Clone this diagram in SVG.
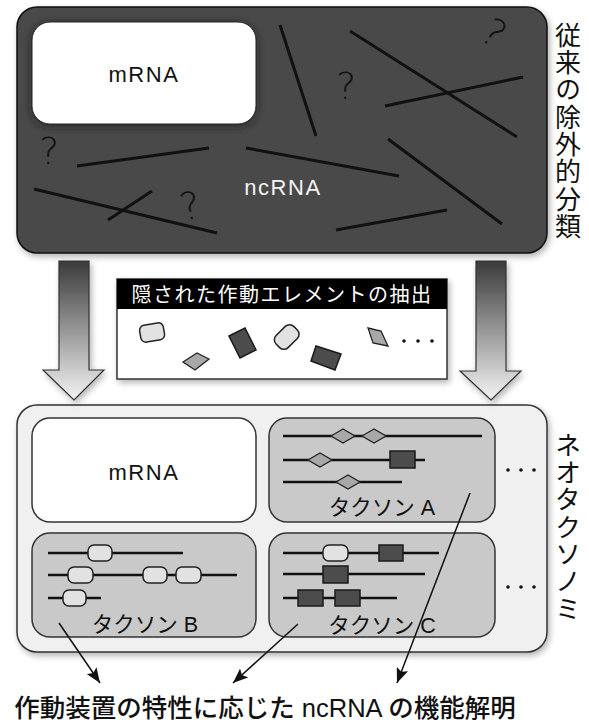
<svg xmlns="http://www.w3.org/2000/svg" width="589" height="722" viewBox="0 0 589 722">
<defs>
<linearGradient id="arrowGrad" x1="0" y1="0" x2="0" y2="1">
<stop offset="0" stop-color="#3a3a3a"/>
<stop offset="1" stop-color="#f4f4f4"/>
</linearGradient>
<filter id="shadow" x="-10%" y="-10%" width="130%" height="130%">
<feDropShadow dx="2" dy="3" stdDeviation="3" flood-color="#000" flood-opacity="0.3"/>
</filter>
<filter id="glow" x="-10%" y="-10%" width="120%" height="130%">
<feDropShadow dx="0" dy="2" stdDeviation="4" flood-color="#1a1a1a" flood-opacity="0.7"/>
</filter>
<marker id="ah" markerUnits="userSpaceOnUse" markerWidth="16" markerHeight="12" refX="15" refY="6" orient="auto">
<path d="M0,0 L15,6 L0,12 L3,6 Z" fill="#111"/>
</marker>
</defs>
<style>
.lat{font-family:"Liberation Sans",Arial,sans-serif}
.jp{font-family:"Liberation Sans","Noto Sans CJK JP",sans-serif}
.vert{font-family:"Noto Sans CJK JP",sans-serif;font-size:26px;fill:#111;writing-mode:vertical-rl;letter-spacing:1.3px}
.rna{font-size:22px;text-anchor:middle;letter-spacing:1.6px}
.scr{stroke:#111;stroke-width:3;stroke-linecap:butt}
.q{font-family:"DejaVu Sans",sans-serif;font-size:38px;fill:#111;font-weight:300}
.tax{fill:#c9c9c9;stroke:#333;stroke-width:1.5}
.ln{stroke:#111;stroke-width:2.5}
.lt{fill:#e2e2e2;stroke:#222;stroke-width:1.5}
.dk{fill:#4c4c4c;stroke:#1a1a1a;stroke-width:1.5}
.md{fill:#a8a8a8;stroke:#222;stroke-width:1.3}
.tl{font-size:21.5px;fill:#111;text-anchor:middle}
.conn{stroke:#111;stroke-width:1.5;fill:none;marker-end:url(#ah)}
</style>
<rect width="589" height="722" fill="#fff"/>

<!-- Top: conventional classification -->
<g id="conventional">
<rect x="17" y="7" width="530" height="246" rx="20" fill="#484848" stroke="#111" stroke-width="1.5" filter="url(#shadow)"/>
<g id="mrna-top">
<rect x="32" y="22" width="224" height="102" rx="18" fill="#fff" stroke="#222" stroke-width="1" filter="url(#glow)"/>
<text class="lat rna" x="144" y="82" fill="#111">mRNA</text>
</g>
<g id="ncrna-scribbles">
<line class="scr" x1="77" y1="166" x2="209" y2="148"/>
<line class="scr" x1="246" y1="148" x2="399" y2="176"/>
<line class="scr" x1="34" y1="189" x2="217" y2="233"/>
<line class="scr" x1="108" y1="220" x2="152" y2="191"/>
<line class="scr" x1="280" y1="25" x2="316" y2="136"/>
<line class="scr" x1="350" y1="31" x2="517" y2="137"/>
<line class="scr" x1="385" y1="106" x2="523" y2="77"/>
<line class="scr" x1="388" y1="139" x2="502" y2="224"/>
<line class="scr" x1="336" y1="230" x2="447" y2="210"/>
<text class="q" x="39" y="164">?</text>
<text class="q" transform="translate(183,221) rotate(-12)">?</text>
<text class="q" x="336" y="99">?</text>
<text class="q" transform="translate(478,38) rotate(35)">?</text>
<text class="lat rna" x="283" y="195" fill="#f4f4f4">ncRNA</text>
</g>
</g>
<text class="vert" x="568" y="22">従来の除外的分類</text>

<!-- Middle: extraction of hidden elements -->
<g id="extraction">
<rect x="117" y="279" width="330" height="100" fill="#fff" stroke="#333" stroke-width="1.5" filter="url(#shadow)"/>
<rect x="117" y="279" width="330" height="30" fill="#000"/>
<text class="jp" x="282" y="302" font-size="20" fill="#fff" text-anchor="middle" letter-spacing="1.5">隠された作動エレメントの抽出</text>
<rect class="lt" x="140" y="324" width="24" height="17" rx="5" transform="rotate(-10 152 332)"/>
<polygon class="md" points="183,362 197,353 209,359 195,370"/>
<polygon class="dk" points="229,336 245,328 256,350 240,358"/>
<rect class="lt" x="274" y="329" width="25" height="17" rx="6" transform="rotate(-45 286 337)"/>
<polygon class="dk" points="311,361 316,346 341,354 335,370"/>
<polygon class="md" points="368,328 381,331 388,346 373,343"/>
<circle cx="404" cy="341" r="1.8" fill="#111"/>
<circle cx="418" cy="341" r="1.8" fill="#111"/>
<circle cx="432" cy="341" r="1.8" fill="#111"/>
</g>

<!-- Bottom: neo-taxonomy -->
<g id="neotaxonomy">
<rect x="17" y="405" width="530" height="247" rx="20" fill="#f0f0f0" stroke="#333" stroke-width="1.5" filter="url(#shadow)"/>
</g>
<text class="vert" x="568" y="432">ネオタクソノミ</text>

<g id="mrna-bottom">
<rect x="32" y="418" width="224" height="104" rx="18" fill="#fff" stroke="#333" stroke-width="1.5"/>
<text class="lat rna" x="144" y="480" fill="#111">mRNA</text>
</g>

<g id="taxon-a">
<rect class="tax" x="269" y="418" width="226" height="104" rx="18"/>
<line class="ln" x1="283" y1="436" x2="482" y2="436"/>
<polygon class="md" points="331,436 343,429 355,436 343,443"/>
<polygon class="md" points="362,436 374,429 386,436 374,443"/>
<line class="ln" x1="283" y1="460" x2="425" y2="460"/>
<polygon class="md" points="308,460 320,453 332,460 320,467"/>
<rect class="dk" x="390" y="451" width="25" height="17"/>
<line class="ln" x1="283" y1="482" x2="402" y2="482"/>
<polygon class="md" points="336,482 348,475 360,482 348,489"/>
<text class="jp tl" x="382" y="515">タクソン A</text>
</g>
<g id="dots-a">
<circle cx="508" cy="470" r="1.8" fill="#111"/>
<circle cx="521" cy="470" r="1.8" fill="#111"/>
<circle cx="534" cy="470" r="1.8" fill="#111"/>
</g>

<g id="taxon-b">
<rect class="tax" x="32" y="533" width="224" height="104" rx="18"/>
<line class="ln" x1="48" y1="553" x2="183" y2="553"/>
<rect class="lt" x="88" y="545" width="24" height="16" rx="6"/>
<line class="ln" x1="48" y1="575" x2="237" y2="575"/>
<rect class="lt" x="68" y="567" width="25" height="16" rx="6"/>
<rect class="lt" x="143" y="567" width="24" height="16" rx="6"/>
<rect class="lt" x="176" y="567" width="25" height="16" rx="6"/>
<line class="ln" x1="48" y1="598" x2="101" y2="598"/>
<rect class="lt" x="63" y="590" width="23" height="16" rx="6"/>
<text class="jp tl" x="145" y="632">タクソン B</text>
</g>

<g id="taxon-c">
<rect class="tax" x="269" y="533" width="226" height="104" rx="18"/>
<line class="ln" x1="283" y1="553" x2="439" y2="553"/>
<rect class="lt" x="323" y="545" width="25" height="16" rx="6"/>
<rect class="dk" x="379" y="545" width="24" height="16"/>
<line class="ln" x1="283" y1="574" x2="425" y2="574"/>
<rect class="dk" x="323" y="566" width="25" height="17"/>
<line class="ln" x1="283" y1="598" x2="397" y2="598"/>
<rect class="dk" x="298" y="590" width="25" height="16"/>
<rect class="dk" x="335" y="590" width="25" height="16"/>
<text class="jp tl" x="382" y="633">タクソン C</text>
</g>
<g id="dots-c">
<circle cx="508" cy="587" r="1.8" fill="#111"/>
<circle cx="521" cy="587" r="1.8" fill="#111"/>
<circle cx="534" cy="587" r="1.8" fill="#111"/>
</g>

<g id="connectors">
<polygon points="59,261 89,261 89,370 104,370 74,400 43,370 59,370" fill="url(#arrowGrad)" stroke="#333" stroke-width="1.2" filter="url(#shadow)"/>
<polygon points="476,261 506,261 506,371 521,371 491,400 460,371 476,371" fill="url(#arrowGrad)" stroke="#333" stroke-width="1.2" filter="url(#shadow)"/>
<line class="conn" x1="59" y1="623" x2="100" y2="683"/>
<line class="conn" x1="298" y1="624" x2="233" y2="683"/>
<line class="conn" x1="470" y1="493" x2="397" y2="683"/>
</g>

<text class="jp" x="265" y="717" font-size="25.5" font-weight="500" fill="#111" text-anchor="middle">作動装置の特性に応じた ncRNA の機能解明</text>
</svg>
